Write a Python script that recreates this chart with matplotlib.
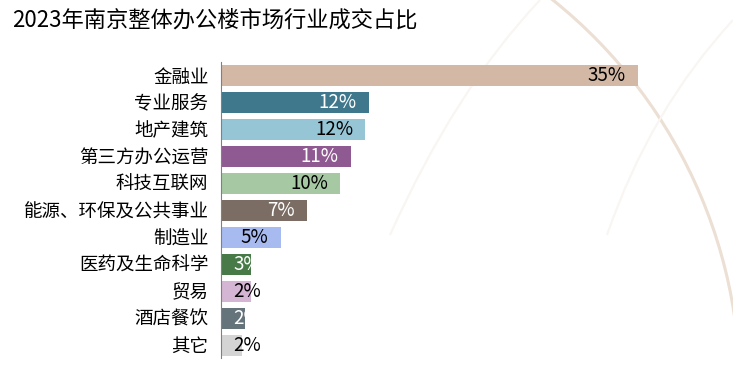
import matplotlib
matplotlib.use("Agg")
import matplotlib.pyplot as plt
from matplotlib.patches import Arc, PathPatch
from matplotlib.path import Path

plt.rcParams["font.family"] = ["Noto Sans CJK SC", "DejaVu Sans"]

TITLE = "2023年南京整体办公楼市场行业成交占比"
industries = ["金融业", "专业服务", "地产建筑", "第三方办公运营", "科技互联网",
              "能源、环保及公共事业", "制造业", "医药及生命科学", "贸易", "酒店餐饮", "其它"]
shares = [35.0, 12.4, 12.1, 10.9, 10.0, 7.2, 5.0, 2.5, 2.5, 2.0, 1.8]
share_labels = ["35%", "12%", "12%", "11%", "10%", "7%", "5%", "3%", "2%", "2%", "2%"]
colors = ["#d2b8a5", "#3f788c", "#96c5d6", "#8f5a91", "#a6c8a2", "#7b6d64",
          "#a8bbf0", "#477a46", "#d4b5d3", "#65737a", "#d4d4d4"]
label_colors = ["black", "white", "black", "white", "black", "white",
                "black", "white", "black", "white", "black"]

fig = plt.figure(figsize=(7.33, 3.71), dpi=100)

# faint decorative arcs in the background (pixel space)
bg = fig.add_axes([0, 0, 1, 1], zorder=0)
bg.set_xlim(0, 733); bg.set_ylim(371, 0); bg.axis("off")
bg.add_patch(Arc((240, 390), 1000, 1000, theta1=-62, theta2=-5, color="#ecdfd3", lw=2.2))
bg.add_patch(PathPatch(Path([(540, 0), (455, 90), (390, 235)],
                            [Path.MOVETO, Path.CURVE3, Path.CURVE3]),
                       fill=False, ec="#f8f5f2", lw=1.5))
bg.add_patch(PathPatch(Path([(733, 20), (650, 110), (607, 235)],
                            [Path.MOVETO, Path.CURVE3, Path.CURVE3]),
                       fill=False, ec="#f8f5f2", lw=1.5))

fig.text(0.016, 0.945, TITLE, fontsize=16, ha="left", va="center")

ax = fig.add_axes([0.3015, 0.0337, 0.6175, 0.7992], zorder=1)
ax.patch.set_alpha(0)
ypos = list(range(len(industries)))
bars = ax.barh(ypos, shares, height=0.78, color=colors)
ax.set_ylim(len(industries) - 0.5, -0.5)
ax.set_xlim(0, 38)
ax.set_yticks(ypos, industries, fontsize=13.3)
ax.tick_params(axis="y", length=0, pad=9)
ax.set_xticks([])
for side in ("top", "right", "bottom"):
    ax.spines[side].set_visible(False)
ax.spines["left"].set_color("#808080")

texts = []
for bar, y, v, lab, tc in zip(bars, ypos, shares, share_labels, label_colors):
    t = ax.annotate(lab, (v, y), xytext=(-12, 0), textcoords="offset pixels",
                    ha="right", va="center", fontsize=13.5, color=tc)
    if tc == "white":
        t.set_clip_path(bar)
        t.set_clip_on(True)
    texts.append((t, y))

# keep labels on short bars from running past the axis
fig.canvas.draw()
r = fig.canvas.get_renderer()
axis_left = ax.get_window_extent(r).x0
for t, y in texts:
    if t.get_window_extent(r).x0 < axis_left + 12:
        t.xy = (0, y)
        t.set_position((12, 0))
        t.set_ha("left")

fig.savefig("out.png", dpi=100)
